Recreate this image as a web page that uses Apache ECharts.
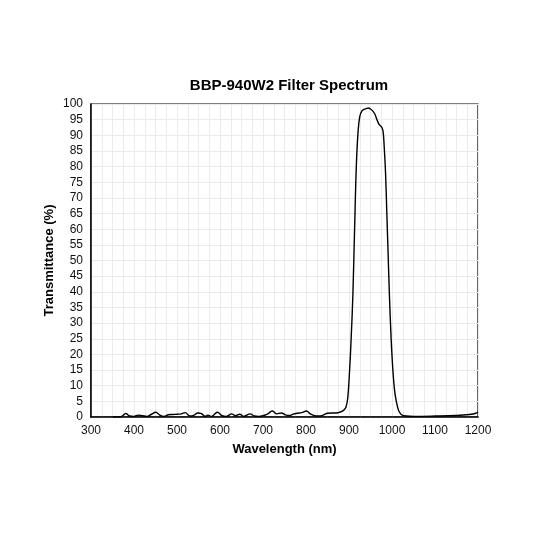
<!DOCTYPE html>
<html>
<head>
<meta charset="utf-8">
<script src="https://cdn.jsdelivr.net/npm/echarts@6/dist/echarts.min.js"></script>
<style>
  html, body { margin: 0; padding: 0; background: #fff; }
  #chart { width: 533px; height: 533px; }
</style>
</head>
<body>
<div id="chart"></div>
<script>
// 数据
var wavelength = [350, 370, 381, 390, 400, 410, 420, 430, 440, 451, 460, 470, 480, 490, 500, 510, 519, 530, 540, 548,
  557, 565, 572, 580, 594, 605, 615, 627, 636, 646, 655, 670, 680, 690, 700, 710, 722, 732, 743, 752,
  762, 770, 780, 790, 801, 810, 820, 830, 840, 850, 860, 870, 880, 888, 893, 897, 901, 905, 909, 913, 917,
  921, 925, 930, 935, 940, 945, 950, 955, 960, 965, 970, 975, 979, 982, 985, 988, 991, 994, 998, 1002,
  1006, 1010, 1015, 1020, 1025, 1033, 1050, 1100, 1150, 1180, 1195, 1200];
var transmittance = [0, 0.1, 1.1, 0.3, 0.2, 0.6, 0.4, 0.2, 0.8, 1.5, 0.6, 0.2, 0.7, 0.8, 0.9, 1.0, 1.4, 0.3, 0.6, 1.3,
  1.1, 0.2, 0.6, 0.2, 1.5, 0.4, 0.2, 1.0, 0.4, 0.9, 0.2, 1.0, 0.3, 0.2, 0.4, 0.9, 1.9, 1.0, 1.3, 0.7,
  0.5, 0.9, 1.2, 1.4, 1.9, 1.0, 0.4, 0.3, 0.6, 1.2, 1.3, 1.3, 1.6, 2.2, 3.2, 6, 14, 25, 39, 60, 80,
  91, 96, 97.8, 98.3, 98.5, 98.7, 98.4, 97.8, 96.8, 95, 93.5, 92.8, 91.5, 86, 78, 65, 52, 39, 25, 15,
  8.5, 5, 2.2, 1, 0.5, 0.3, 0.2, 0.3, 0.5, 0.8, 1.2, 1.7];
var xTicks = [300, 400, 500, 600, 700, 800, 900, 1000, 1100, 1200];
var yTicks = [0, 5, 10, 15, 20, 25, 30, 35, 40, 45, 50, 55, 60, 65, 70, 75, 80, 85, 90, 95, 100];

var myChart = echarts.init(document.getElementById('chart'));

var points = wavelength.map(function (w, i) { return [w, transmittance[i]]; });

var option = {
    animation: false,
    textStyle: { fontFamily: 'Liberation Sans, Arial, sans-serif' },
    title: {
        text: 'BBP-940W2 Filter Spectrum',
        left: 284,
        top: 73,
        textAlign: 'center',
        textStyle: { fontSize: 15, fontWeight: 'bold', color: '#000' }
    },
    grid: {
        left: 91,
        right: 55,
        top: 104,
        bottom: 116,
        show: true,
        borderColor: '#000',
        borderWidth: 1.2
    },
    xAxis: {
        type: 'value',
        min: xTicks[0],
        max: xTicks[xTicks.length - 1],
        interval: 25,
        name: 'Wavelength (nm)',
        nameLocation: 'middle',
        nameGap: 26,
        nameTextStyle: { fontSize: 13, fontWeight: 'bold', color: '#000' },
        axisLine: { show: true, lineStyle: { color: '#000', width: 1.5 } },
        axisTick: { show: false },
        axisLabel: {
            color: '#111',
            fontSize: 12,
            margin: 8,
            formatter: function (v) { return xTicks.indexOf(v) >= 0 ? String(v) : ''; }
        },
        splitLine: { show: true, lineStyle: { color: '#ebebeb', width: 1 } }
    },
    yAxis: {
        type: 'value',
        min: yTicks[0],
        max: yTicks[yTicks.length - 1],
        interval: 5,
        name: 'Transmittance (%)',
        nameLocation: 'middle',
        nameGap: 35,
        nameMoveOverlap: false,
        nameTextStyle: { fontSize: 13, fontWeight: 'bold', color: '#000' },
        axisLine: { show: true, lineStyle: { color: '#000', width: 1.5 } },
        axisTick: { show: false },
        axisLabel: { color: '#111', fontSize: 12, margin: 8 },
        splitLine: { show: true, lineStyle: { color: '#ebebeb', width: 1 } }
    },
    series: [
        {
            name: 'BBP-940W2',
            type: 'line',
            data: points,
            smooth: 0.4,
            showSymbol: false,
            lineStyle: { color: '#000', width: 1.4 }
        }
    ]
};
myChart.setOption(option);
</script>
</body>
</html>
